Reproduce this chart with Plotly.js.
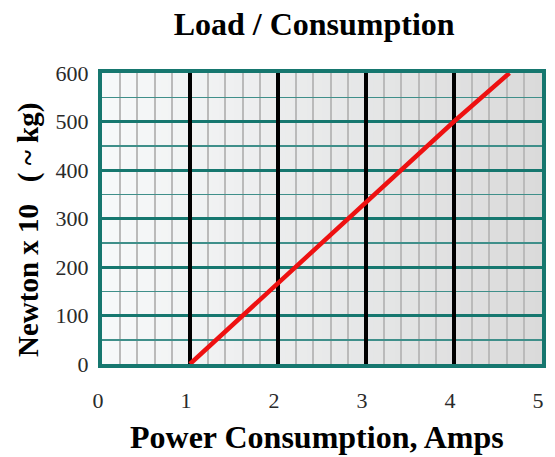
<!DOCTYPE html>
<html>
<head>
<meta charset="utf-8">
<script src="https://cdn.plot.ly/plotly-3.0.1.min.js"></script>
<style>html,body{margin:0;padding:0;background:#fff;}#chart{width:555px;height:457px;}</style>
</head>
<body>
<div id="chart"></div>
<script>
// Data
const amps = [1, 2, 3, 4, 4.63];
const load = [0, 167, 333, 500, 600];
const xTicks = [0, 1, 2, 3, 4, 5];
const yTicks = [0, 100, 200, 300, 400, 500, 600];
const majorX = [1, 2, 3, 4];
const titleText = 'Load / Consumption';
const xTitle = 'Power Consumption, Amps';
const yTitle = 'Newton x 10 \u00a0\u00a0( ~ kg)';

const serif = '"Liberation Serif", "Times New Roman", serif';
const teal = '#16776f';

// background gradient (left light -> right grey), drawn as thin strips
const nStrips = 60;
const c0 = [247, 249, 250], c1 = [218, 218, 218];
const shapes = [];
for (let i = 0; i < nStrips; i++) {
  const t = (i + 0.5) / nStrips;
  const c = c0.map((v, k) => Math.round(v + (c1[k] - v) * t));
  shapes.push({
    type: 'rect', xref: 'x domain', yref: 'y domain',
    x0: i / nStrips, x1: (i + 1) / nStrips + 0.002, y0: 0, y1: 1,
    fillcolor: 'rgb(' + c.join(',') + ')', line: {width: 0}, layer: 'below'
  });
}

// heavy black vertical grid lines at whole amps
const gx = [], gy = [];
majorX.forEach(v => { gx.push(v, v, null); gy.push(yTicks[0], yTicks[yTicks.length - 1], null); });
const gridTrace = {
  x: gx, y: gy, type: 'scatter', mode: 'lines',
  line: {color: '#000', width: 4}, hoverinfo: 'skip'
};

const trace = {
  x: amps, y: load, type: 'scatter', mode: 'lines',
  line: {color: '#ee1111', width: 4.5}, hoverinfo: 'skip'
};

const layout = {
  width: 555, height: 457,
  margin: {l: 102, r: 13, t: 73, b: 93},
  paper_bgcolor: '#ffffff',
  plot_bgcolor: '#f0f0f0',
  showlegend: false,
  title: {
    text: '<b>' + titleText + '</b>',
    font: {family: serif, size: 32, color: '#000'},
    x: 0.566, xanchor: 'center', xref: 'container',
    y: 0.948, yanchor: 'middle', yref: 'container'
  },
  annotations: [
    {
      text: '<b>' + xTitle + '</b>', showarrow: false,
      font: {family: serif, size: 32, color: '#000'},
      xref: 'paper', yref: 'paper', x: (317 - 102) / 440, y: -(437 - 364) / 291,
      xanchor: 'center', yanchor: 'middle'
    },
    {
      text: '<b>' + yTitle + '</b>', showarrow: false, textangle: -90,
      font: {family: serif, size: 29, color: '#000'},
      xref: 'paper', yref: 'paper', x: (28 - 102) / 440, y: (364 - 230) / 291,
      xanchor: 'center', yanchor: 'middle'
    }
  ],
  xaxis: {
    range: [0, 5], tickvals: xTicks, ticktext: xTicks.map(String),
    showgrid: false,
    minor: {dtick: 0.2, showgrid: true, gridcolor: '#bababa', gridwidth: 2},
    showline: true, mirror: true, linecolor: teal, linewidth: 4,
    zeroline: false, ticks: '',
    ticklabelstandoff: 14, ticklabelshift: -4,
    tickfont: {family: serif, size: 22, color: '#2a2a2a'},
    fixedrange: true
  },
  yaxis: {
    range: [0, 600], tickvals: yTicks, ticktext: yTicks.map(String),
    showgrid: true, gridcolor: teal, gridwidth: 3,
    minor: {dtick: 50, showgrid: true, gridcolor: '#3f8f8a', gridwidth: 1.5},
    showline: true, mirror: true, linecolor: teal, linewidth: 4,
    zeroline: false, ticks: '',
    ticklabelstandoff: 5,
    tickfont: {family: serif, size: 22, color: '#2a2a2a'},
    fixedrange: true
  },
  shapes: shapes
};

Plotly.newPlot('chart', [gridTrace, trace], layout, {displayModeBar: false, staticPlot: true});
</script>
</body>
</html>
